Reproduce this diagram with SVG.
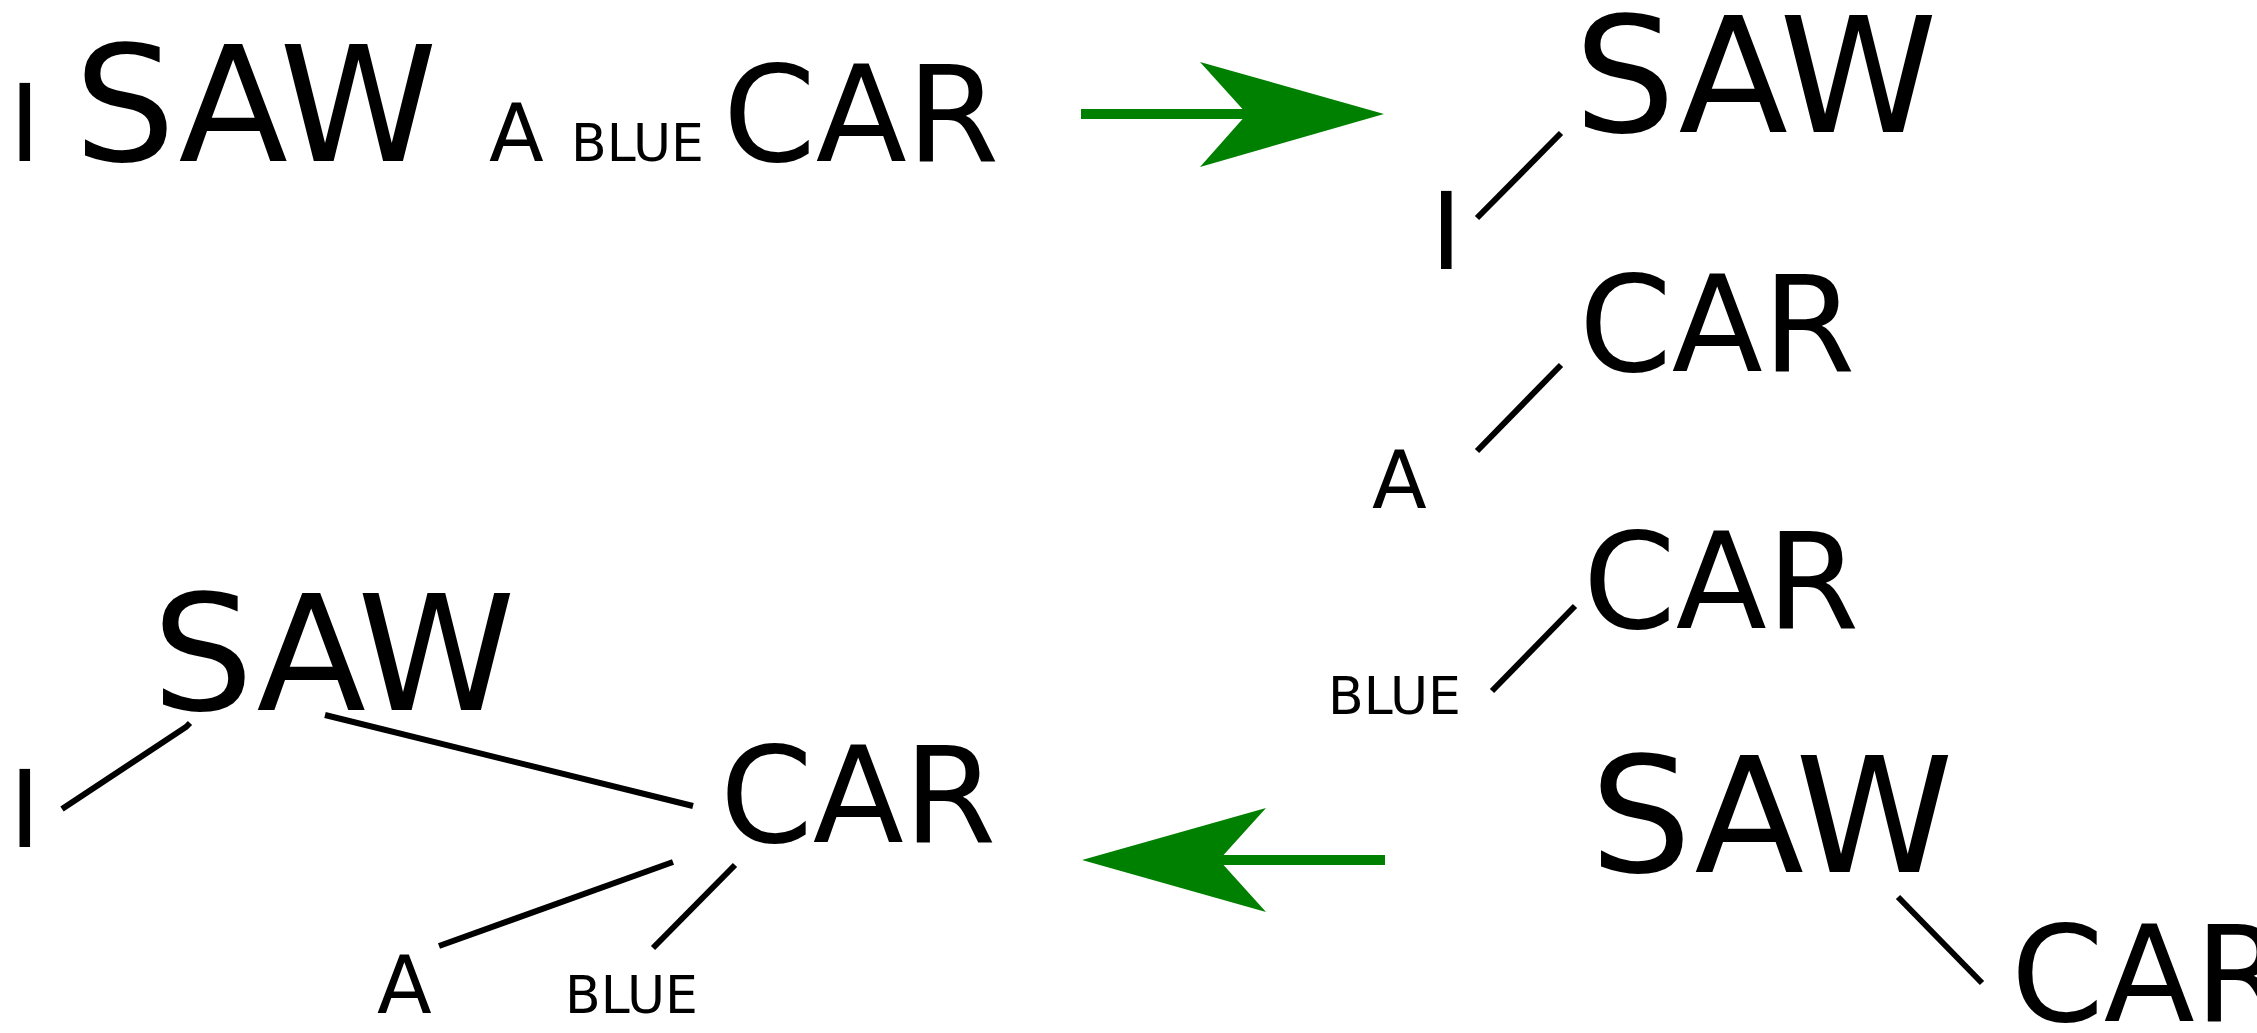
<svg xmlns="http://www.w3.org/2000/svg" width="2257" height="1033" viewBox="0 0 2257 1033">
<style>
text{font-family:"DejaVu Sans",sans-serif;fill:#000}
.i{font-size:107px}.saw{font-size:160px}.a{font-size:80px}.blue{font-size:52px}.car{font-size:133px}
.e{stroke:#000;stroke-width:6;fill:none}
.g{fill:#008000}
</style>
<rect width="2257" height="1033" fill="#fff"/>
<g id="sentence">
<text id="s-i" class="i" x="9" y="161">I</text>
<text id="s-saw" class="saw" x="74" y="161">SAW</text>
<text id="s-a" class="a" x="489" y="161">A</text>
<text id="s-blue" class="blue" x="571" y="161">BLUE</text>
<text id="s-car" class="car" x="723" y="161">CAR</text>
</g>
<g id="tree-right">
<text id="r-saw" class="saw" x="1574" y="132">SAW</text>
<text id="r-i" class="i" x="1430.5" y="269">I</text>
<text id="r-car1" class="car" x="1579" y="371">CAR</text>
<text id="r-a" class="a" x="1372" y="508">A</text>
<text id="r-car2" class="car" x="1583" y="628">CAR</text>
<text id="r-blue" class="blue" x="1328" y="714">BLUE</text>
<text id="r-saw2" class="saw" x="1590" y="872">SAW</text>
<text id="r-car3" class="car" x="2011" y="1021">CAR</text>
</g>
<g id="tree-left">
<text id="l-saw" class="saw" x="152" y="710">SAW</text>
<text id="l-i" class="i" x="9" y="847">I</text>
<text id="l-car" class="car" x="720" y="842">CAR</text>
<text id="l-a" class="a" x="377" y="1013">A</text>
<text id="l-blue" class="blue" x="565" y="1013">BLUE</text>
</g>
<g id="connectors">
<line class="e" x1="1477" y1="218" x2="1561" y2="133"/>
<line class="e" x1="1477" y1="451" x2="1561" y2="365"/>
<line class="e" x1="1492" y1="691" x2="1575" y2="606"/>
<line class="e" x1="1898" y1="897" x2="1982" y2="983"/>
<path class="e" d="M62,809 L186,727 L190,723"/>
<line class="e" x1="325" y1="715" x2="693" y2="806"/>
<line class="e" x1="439" y1="946" x2="673" y2="862"/>
<line class="e" x1="653" y1="948" x2="735" y2="865"/>
<g id="arrow-top">
<rect class="g" x="1081" y="109" width="170" height="10"/>
<polygon class="g" points="1384,114 1200,62 1247,114 1200,167"/>
</g>
<g id="arrow-bottom">
<rect class="g" x="1218" y="855" width="167" height="10"/>
<polygon class="g" points="1082,860 1266,808 1219,860 1266,912"/>
</g>
</g>
</svg>
